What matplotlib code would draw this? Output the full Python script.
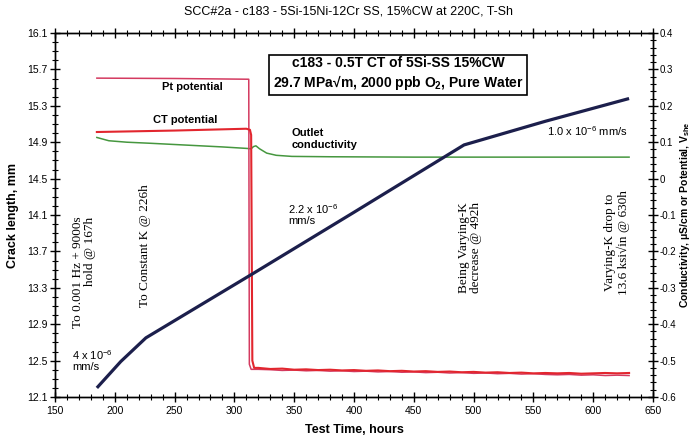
import numpy as np
import matplotlib
matplotlib.use("Agg")
import matplotlib.pyplot as plt
from matplotlib.ticker import MultipleLocator, FixedLocator, FuncFormatter

plt.rcParams['font.family'] = ['Liberation Sans', 'DejaVu Sans']
plt.rcParams['mathtext.fontset'] = 'custom'
plt.rcParams['mathtext.rm'] = 'Liberation Sans'
plt.rcParams['mathtext.bf'] = 'Liberation Sans:bold'
plt.rcParams['mathtext.it'] = 'Liberation Sans:italic'

# Crack length (mm) vs test time (h)
crack_hours = [185, 205, 226, 316, 400, 492, 560, 630]
crack_mm = [12.20, 12.49, 12.75, 13.46, 14.13, 14.87, 15.13, 15.38]

# Potentials (V_she) before the drop
pt_hours_pre = [185, 250, 312, 312.5, 314]
pt_pre = [0.276, 0.275, 0.273, -0.510, -0.524]
ct_hours_pre = [185, 250, 310, 313, 314, 315, 316.5]
ct_pre = [0.128, 0.132, 0.137, 0.134, 0.120, -0.500, -0.520]

# Potentials after the drop
post_hours = list(range(320, 631, 10))
ct_post = [-0.520, -0.523, -0.522, -0.525, -0.524, -0.526, -0.525, -0.527,
           -0.526, -0.528, -0.527, -0.529, -0.528, -0.530, -0.529, -0.531,
           -0.530, -0.532, -0.531, -0.533, -0.532, -0.534, -0.533, -0.535,
           -0.534, -0.535, -0.534, -0.536, -0.535, -0.534, -0.535, -0.534]
pt_post = [-0.524, -0.525, -0.527, -0.526, -0.528, -0.527, -0.529, -0.528,
           -0.530, -0.529, -0.531, -0.530, -0.532, -0.531, -0.533, -0.532,
           -0.534, -0.533, -0.535, -0.534, -0.536, -0.535, -0.537, -0.536,
           -0.538, -0.539, -0.538, -0.540, -0.539, -0.541, -0.540, -0.541]

# Outlet conductivity (uS/cm)
cond_hours = [185, 195, 210, 230, 260, 290, 310, 314, 316, 318, 321, 327,
              335, 348, 380, 450, 550, 630]
cond = [0.113, 0.104, 0.100, 0.097, 0.092, 0.087, 0.083, 0.082, 0.088, 0.090,
        0.082, 0.070, 0.064, 0.061, 0.060, 0.059, 0.059, 0.059]

fig = plt.figure(figsize=(6.91, 4.41), dpi=100)
ax = fig.add_axes([55 / 691, 1 - 397 / 441, 598 / 691, 364 / 441])
ax2 = ax.twinx()
ax.set_zorder(ax2.get_zorder() + 1)
ax.patch.set_visible(False)

NAVY = '#1c1f4c'
PT = '#d43a60'
CT = '#e2262e'
GREEN = '#46973f'

ax2.plot(cond_hours, cond, color=GREEN, lw=1.1)
ax2.plot(pt_hours_pre + post_hours, pt_pre + pt_post, color=PT, lw=1.1)
ax2.plot(ct_hours_pre + post_hours, ct_pre + ct_post, color=CT, lw=1.5)
ax.plot(crack_hours, crack_mm, color=NAVY, lw=2.3, solid_capstyle='butt')

ax.set_xlim(150, 650)
ax.set_ylim(12.1, 16.1)
ax2.set_ylim(-0.6, 0.4)

ax.xaxis.set_major_locator(MultipleLocator(50))
ax.xaxis.set_minor_locator(MultipleLocator(10))
ax.yaxis.set_major_locator(FixedLocator(np.round(np.arange(12.1, 16.11, 0.4), 1)))
ax.yaxis.set_minor_locator(FixedLocator(np.round(np.arange(12.1, 16.11, 0.1), 1)))
ax.yaxis.set_major_formatter(FuncFormatter(lambda v, p: f"{v:.1f}"))
ax2.yaxis.set_major_locator(FixedLocator(np.round(np.arange(-0.6, 0.41, 0.1), 1)))
ax2.yaxis.set_minor_locator(FixedLocator(np.round(np.arange(-0.6, 0.41, 0.02), 2)))
ax2.yaxis.set_major_formatter(FuncFormatter(lambda v, p: "0" if abs(v) < 1e-9 else f"{v:.1f}"))

for a in (ax, ax2):
    for s in a.spines.values():
        s.set_linewidth(1.0)
ax.tick_params(axis='x', which='both', direction='inout', top=True, labelsize=7.5, pad=3)
ax.tick_params(axis='x', which='major', length=7, width=1)
ax.tick_params(axis='x', which='minor', length=4, width=0.8)
ax.tick_params(axis='y', which='both', direction='inout', right=False, labelsize=7.5, pad=2)
ax.tick_params(axis='y', which='major', length=7, width=1)
ax.tick_params(axis='y', which='minor', length=4, width=0.8)
ax2.tick_params(axis='y', which='both', direction='inout', labelsize=7, pad=1.5)
ax2.tick_params(axis='y', which='major', length=7, width=1)
ax2.tick_params(axis='y', which='minor', length=4, width=0.8)

ax.set_xlabel('Test Time, hours', fontsize=9, fontweight='bold', labelpad=6)
ax.set_ylabel('Crack length, mm', fontsize=9, fontweight='bold', labelpad=6)
ax2.set_ylabel('Conductivity, \u03bcS/cm or Potential, V$_\\mathbf{she}$', fontsize=7.5,
               fontweight='bold', labelpad=1)

fig.text(348 / 691, 1 - 12 / 441, 'SCC#2a - c183 - 5Si-15Ni-12Cr SS, 15%CW at 220C, T-Sh',
         ha='center', va='center', fontsize=9)

# Test description box
fig.text(398 / 691, 1 - 74 / 441,
         'c183 - 0.5T CT of 5Si-SS 15%CW\n29.7 MPa\u221am, 2000 ppb O$_\\mathbf{2}$, Pure Water',
         ha='center', va='center', fontsize=10, fontweight='bold', linespacing=1.15,
         bbox=dict(boxstyle='square,pad=0.25', facecolor='white', edgecolor='black', lw=1.2))

# Series labels
fig.text(162 / 691, 1 - 87 / 441, 'Pt potential', fontsize=8, fontweight='bold', va='center')
fig.text(153 / 691, 1 - 120 / 441, 'CT potential', fontsize=8, fontweight='bold', va='center')
fig.text(292 / 691, 1 - 139 / 441, 'Outlet\nconductivity', fontsize=8, fontweight='bold',
         va='center', linespacing=1.15)

# Growth-rate labels
fig.text(72 / 691, 1 - 360 / 441, '4 x 10$^{-6}$\nmm/s', fontsize=8, va='center', linespacing=1.0)
fig.text(288 / 691, 1 - 214 / 441, '2.2 x 10$^{-6}$\nmm/s', fontsize=8, va='center', linespacing=1.0)
fig.text(547 / 691, 1 - 131 / 441, '1.0 x 10$^{-6}$ mm/s', fontsize=8, va='center')

# Test-condition notes
serif = ['Liberation Serif', 'DejaVu Serif']
ax.text(174, 14.08, 'To 0.001 Hz + 9000s\nhold @ 167h', rotation=90, family=serif,
        fontsize=9.5, ha='center', va='top', multialignment='right', linespacing=1.0)
ax.text(225, 13.76, 'To Constant K @ 226h', rotation=90, family=serif,
        fontsize=9.5, ha='center', va='center')
ax.text(497, 13.74, 'Being Varying-K\ndecrease @ 492h', rotation=90, family=serif,
        fontsize=9.5, ha='center', va='center', linespacing=1.1)
ax.text(620, 13.80, 'Varying-K drop to\n13.6 ksi\u221ain @ 630h', rotation=90, family=serif,
        fontsize=9.5, ha='center', va='center', linespacing=1.1)

fig.savefig('out.png', dpi=100)
